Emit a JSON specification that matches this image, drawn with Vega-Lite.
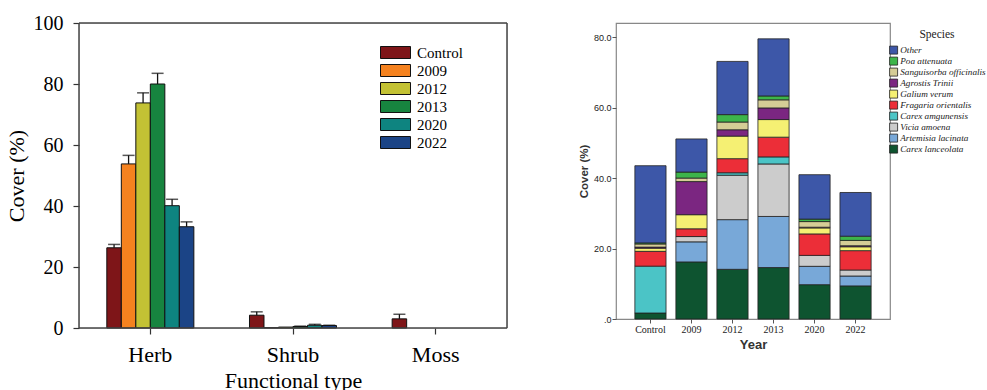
{
  "$schema": "https://vega.github.io/schema/vega-lite/v6.json",
  "background": "white",
  "padding": {"left": 4, "top": 12, "right": 0, "bottom": 0},
  "spacing": 68,
  "resolve": {"scale": {"color": "independent"}, "legend": {"color": "independent"}},
  "hconcat": [
    {
      "width": 428,
      "height": 305,
      "resolve": {"scale": {"x": "independent"}, "axis": {"x": "independent"}},
      "layer": [
        {
          "data": {"values": [
            {"Type": "Herb", "Year": "Control", "Cover": 26.3, "Err": 27.4},
            {"Type": "Herb", "Year": "2009", "Cover": 53.8, "Err": 56.6},
            {"Type": "Herb", "Year": "2012", "Cover": 73.8, "Err": 77.1},
            {"Type": "Herb", "Year": "2013", "Cover": 80.0, "Err": 83.5},
            {"Type": "Herb", "Year": "2020", "Cover": 40.1, "Err": 42.2},
            {"Type": "Herb", "Year": "2022", "Cover": 33.2, "Err": 34.8},
            {"Type": "Shrub", "Year": "Control", "Cover": 4.2, "Err": 5.3},
            {"Type": "Shrub", "Year": "2009", "Cover": 0.1, "Err": null},
            {"Type": "Shrub", "Year": "2012", "Cover": 0.3, "Err": null},
            {"Type": "Shrub", "Year": "2013", "Cover": 0.5, "Err": 0.6},
            {"Type": "Shrub", "Year": "2020", "Cover": 0.9, "Err": 1.2},
            {"Type": "Shrub", "Year": "2022", "Cover": 0.8, "Err": 0.9},
            {"Type": "Moss", "Year": "Control", "Cover": 3.0, "Err": 4.5}
          ]},
          "layer": [
            {
              "mark": {"type": "bar", "stroke": "#111", "strokeWidth": 1},
              "encoding": {
                "x": {"field": "Type", "type": "nominal", "sort": ["Herb", "Shrub", "Moss"],
                      "scale": {"paddingInner": 0.39, "paddingOuter": 0.195},
                      "title": "Functional type",
                      "axis": {"orient": "bottom", "labelAngle": 0, "labelFont": "Liberation Serif, Times New Roman, serif", "labelFontSize": 22, "labelColor": "black",
                               "tickSize": 6, "tickColor": "#333", "tickWidth": 1.2, "labelPadding": 10, "domain": false,
                               "titleFont": "Liberation Serif, Times New Roman, serif", "titleFontSize": 22, "titleFontWeight": "normal", "titleColor": "black", "titlePadding": 5}},
                "xOffset": {"field": "Year", "type": "nominal", "sort": ["Control", "2009", "2012", "2013", "2020", "2022"],
                            "scale": {"paddingInner": 0, "paddingOuter": 0}},
                "y": {"field": "Cover", "type": "quantitative", "scale": {"domain": [0, 100]},
                      "title": "Cover (%)",
                      "axis": {"orient": "left", "values": [0, 20, 40, 60, 80, 100], "grid": false, "domain": false,
                               "labelFont": "Liberation Serif, Times New Roman, serif", "labelFontSize": 20, "labelColor": "black",
                               "tickSize": 6, "tickColor": "#333", "tickWidth": 1.2, "labelPadding": 10,
                               "titleFont": "Liberation Serif, Times New Roman, serif", "titleFontSize": 22, "titleFontWeight": "normal", "titleColor": "black", "titlePadding": 5}},
                "color": {"field": "Year", "type": "nominal",
                          "scale": {"domain": ["Control", "2009", "2012", "2013", "2020", "2022"],
                                    "range": ["#7E1518", "#F5821F", "#C3C234", "#17843F", "#0E8480", "#1B4486"]},
                          "legend": {"orient": "none", "legendX": 309, "legendY": 22, "title": null,
                                     "symbolType": "M-2.5,-1H2.5V1H-2.5Z", "symbolSize": 144,
                                     "symbolStrokeColor": "#111", "symbolStrokeWidth": 1,
                                     "labelFont": "Liberation Serif, Times New Roman, serif", "labelFontSize": 15, "labelColor": "black",
                                     "labelOffset": 14, "rowPadding": 1}}
              }
            },
            {
              "transform": [{"filter": "datum.Err != null"}],
              "mark": {"type": "rule", "color": "#111", "strokeWidth": 1.3},
              "encoding": {
                "x": {"field": "Type", "type": "nominal", "sort": ["Herb", "Shrub", "Moss"]},
                "xOffset": {"field": "Year", "type": "nominal", "sort": ["Control", "2009", "2012", "2013", "2020", "2022"]},
                "y": {"field": "Cover", "type": "quantitative", "title": "Cover (%)"},
                "y2": {"field": "Err"}
              }
            },
            {
              "transform": [{"filter": "datum.Err != null"}],
              "mark": {"type": "tick", "color": "#111", "thickness": 1.5, "size": 12},
              "encoding": {
                "x": {"field": "Type", "type": "nominal", "sort": ["Herb", "Shrub", "Moss"]},
                "xOffset": {"field": "Year", "type": "nominal", "sort": ["Control", "2009", "2012", "2013", "2020", "2022"]},
                "y": {"field": "Err", "type": "quantitative", "title": "Cover (%)"}
              }
            }
          ]
        },
        {
          "data": {"values": [{"Edge": 0}, {"Edge": 1}]},
          "mark": {"type": "rule", "color": "#444", "strokeWidth": 1.5},
          "encoding": {
            "x": {"field": "Edge", "type": "quantitative", "scale": {"domain": [0, 1], "nice": false}, "axis": null}
          }
        },
        {
          "data": {"values": [{"Level": 0}, {"Level": 100}]},
          "mark": {"type": "rule", "color": "#444", "strokeWidth": 1.5},
          "encoding": {
            "y": {"field": "Level", "type": "quantitative", "title": "Cover (%)"}
          }
        }
      ]
    },
    {
      "width": 274,
      "height": 296,
      "view": {"stroke": "#888", "strokeWidth": 1.2},
      "data": {"values": [
        {"Year": "Control", "Species": "Carex lanceolata", "k": 1, "Cover": 1.7},
        {"Year": "Control", "Species": "Carex amgunensis", "k": 4, "Cover": 13.3},
        {"Year": "Control", "Species": "Fragaria orientalis", "k": 5, "Cover": 4.2},
        {"Year": "Control", "Species": "Galium verum", "k": 6, "Cover": 0.9},
        {"Year": "Control", "Species": "Agrostis Trinii", "k": 7, "Cover": 0.3},
        {"Year": "Control", "Species": "Sanguisorba officinalis", "k": 8, "Cover": 0.9},
        {"Year": "Control", "Species": "Poa attenuata", "k": 9, "Cover": 0.3},
        {"Year": "Control", "Species": "Other", "k": 10, "Cover": 21.9},
        {"Year": "2009", "Species": "Carex lanceolata", "k": 1, "Cover": 16.2},
        {"Year": "2009", "Species": "Artemisia lacinata", "k": 2, "Cover": 5.7},
        {"Year": "2009", "Species": "Vicia amoena", "k": 3, "Cover": 1.5},
        {"Year": "2009", "Species": "Fragaria orientalis", "k": 5, "Cover": 2.2},
        {"Year": "2009", "Species": "Galium verum", "k": 6, "Cover": 4.0},
        {"Year": "2009", "Species": "Agrostis Trinii", "k": 7, "Cover": 9.4},
        {"Year": "2009", "Species": "Sanguisorba officinalis", "k": 8, "Cover": 1.0},
        {"Year": "2009", "Species": "Poa attenuata", "k": 9, "Cover": 1.7},
        {"Year": "2009", "Species": "Other", "k": 10, "Cover": 9.4},
        {"Year": "2012", "Species": "Carex lanceolata", "k": 1, "Cover": 14.1},
        {"Year": "2012", "Species": "Artemisia lacinata", "k": 2, "Cover": 14.1},
        {"Year": "2012", "Species": "Vicia amoena", "k": 3, "Cover": 12.6},
        {"Year": "2012", "Species": "Carex amgunensis", "k": 4, "Cover": 0.7},
        {"Year": "2012", "Species": "Fragaria orientalis", "k": 5, "Cover": 4.0},
        {"Year": "2012", "Species": "Galium verum", "k": 6, "Cover": 6.4},
        {"Year": "2012", "Species": "Agrostis Trinii", "k": 7, "Cover": 1.8},
        {"Year": "2012", "Species": "Sanguisorba officinalis", "k": 8, "Cover": 2.2},
        {"Year": "2012", "Species": "Poa attenuata", "k": 9, "Cover": 2.1},
        {"Year": "2012", "Species": "Other", "k": 10, "Cover": 15.1},
        {"Year": "2013", "Species": "Carex lanceolata", "k": 1, "Cover": 14.6},
        {"Year": "2013", "Species": "Artemisia lacinata", "k": 2, "Cover": 14.5},
        {"Year": "2013", "Species": "Vicia amoena", "k": 3, "Cover": 14.9},
        {"Year": "2013", "Species": "Carex amgunensis", "k": 4, "Cover": 2.0},
        {"Year": "2013", "Species": "Fragaria orientalis", "k": 5, "Cover": 5.6},
        {"Year": "2013", "Species": "Galium verum", "k": 6, "Cover": 5.0},
        {"Year": "2013", "Species": "Agrostis Trinii", "k": 7, "Cover": 3.3},
        {"Year": "2013", "Species": "Sanguisorba officinalis", "k": 8, "Cover": 2.3},
        {"Year": "2013", "Species": "Poa attenuata", "k": 9, "Cover": 1.1},
        {"Year": "2013", "Species": "Other", "k": 10, "Cover": 16.2},
        {"Year": "2020", "Species": "Carex lanceolata", "k": 1, "Cover": 9.75},
        {"Year": "2020", "Species": "Artemisia lacinata", "k": 2, "Cover": 5.2},
        {"Year": "2020", "Species": "Vicia amoena", "k": 3, "Cover": 3.1},
        {"Year": "2020", "Species": "Fragaria orientalis", "k": 5, "Cover": 6.1},
        {"Year": "2020", "Species": "Galium verum", "k": 6, "Cover": 1.7},
        {"Year": "2020", "Species": "Agrostis Trinii", "k": 7, "Cover": 0.2},
        {"Year": "2020", "Species": "Sanguisorba officinalis", "k": 8, "Cover": 1.6},
        {"Year": "2020", "Species": "Poa attenuata", "k": 9, "Cover": 0.7},
        {"Year": "2020", "Species": "Other", "k": 10, "Cover": 12.6},
        {"Year": "2022", "Species": "Carex lanceolata", "k": 1, "Cover": 9.4},
        {"Year": "2022", "Species": "Artemisia lacinata", "k": 2, "Cover": 2.8},
        {"Year": "2022", "Species": "Vicia amoena", "k": 3, "Cover": 1.7},
        {"Year": "2022", "Species": "Fragaria orientalis", "k": 5, "Cover": 5.5},
        {"Year": "2022", "Species": "Galium verum", "k": 6, "Cover": 1.1},
        {"Year": "2022", "Species": "Agrostis Trinii", "k": 7, "Cover": 0.3},
        {"Year": "2022", "Species": "Sanguisorba officinalis", "k": 8, "Cover": 1.5},
        {"Year": "2022", "Species": "Poa attenuata", "k": 9, "Cover": 1.2},
        {"Year": "2022", "Species": "Other", "k": 10, "Cover": 12.4}
      ]},
      "mark": {"type": "bar", "stroke": "#222", "strokeWidth": 0.8},
      "encoding": {
        "x": {"field": "Year", "type": "nominal", "sort": ["Control", "2009", "2012", "2013", "2020", "2022"],
              "scale": {"paddingInner": 0.24, "paddingOuter": 0.46},
              "title": "Year",
              "axis": {"orient": "bottom", "labelAngle": 0, "labelFont": "Liberation Serif, Times New Roman, serif", "labelFontSize": 10, "labelColor": "#222",
                       "tickSize": 4, "tickColor": "#555", "labelPadding": 1, "domain": false,
                       "titleFont": "Liberation Sans, Arial, sans-serif", "titleFontSize": 13, "titleFontWeight": "bold", "titleColor": "#333", "titlePadding": 4}},
        "y": {"field": "Cover", "type": "quantitative", "stack": "zero",
              "scale": {"domain": [0, 84], "nice": false},
              "title": "Cover (%)",
              "axis": {"orient": "left", "values": [0, 20, 40, 60, 80], "grid": false, "domain": false,
                       "labelExpr": "datum.value == 0 ? '.0' : format(datum.value, '.1f')",
                       "labelFont": "Liberation Sans, Arial, sans-serif", "labelFontSize": 9, "labelColor": "#222",
                       "tickSize": 4, "tickColor": "#555", "labelPadding": 1,
                       "titleFont": "Liberation Sans, Arial, sans-serif", "titleFontSize": 11.5, "titleFontWeight": "bold", "titleColor": "#333", "titlePadding": 4}},
        "order": {"field": "k", "type": "quantitative", "sort": "ascending"},
        "color": {"field": "Species", "type": "nominal",
                  "scale": {"domain": ["Other", "Poa attenuata", "Sanguisorba officinalis", "Agrostis Trinii", "Galium verum", "Fragaria orientalis", "Carex amgunensis", "Vicia amoena", "Artemisia lacinata", "Carex lanceolata"],
                            "range": ["#3D57A8", "#3DB54A", "#D5CD96", "#7B2681", "#F5F073", "#EC2E38", "#4BC4C6", "#CCCCCC", "#78A8D8", "#0E5430"]},
                  "legend": {"orient": "none", "legendX": 273, "legendY": 6, "title": "Species",
                             "titleFont": "Liberation Serif, Times New Roman, serif", "titleFontSize": 11.5, "titleFontWeight": "normal", "titleColor": "#222",
                             "titleAnchor": "middle", "titlePadding": 5,
                             "symbolType": "square", "symbolSize": 64, "symbolStrokeColor": "#222", "symbolStrokeWidth": 0.8,
                             "labelFont": "Liberation Serif, Times New Roman, serif", "labelFontStyle": "italic", "labelFontSize": 9.2, "labelColor": "#222",
                             "labelLimit": 0, "labelOffset": 2, "rowPadding": -1.8, "padding": 0}}
      }
    }
  ]
}
